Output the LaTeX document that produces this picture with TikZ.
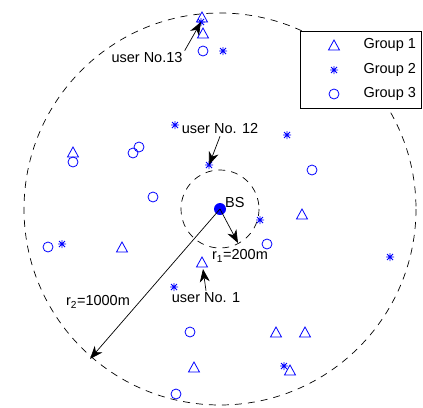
\documentclass[tikz,border=0pt]{standalone}
\usepackage{fontspec}
\setmainfont{Liberation Sans}
\usetikzlibrary{arrows.meta}

\tikzset{
  grpone/.pic={\draw[blue, line width=0.8pt] (-5.5,4) -- (5.5,4) -- (0,-6) -- cycle;},
  grptwo/.pic={\draw[blue, line width=0.8pt] (-4,0) -- (4,0) (0,-4) -- (0,4) (-3,-3) -- (3,3) (-3,3) -- (3,-3);},
  grpthree/.pic={\draw[blue, line width=0.8pt] (0,0) circle [radius=5];},
  usrlbl/.style={inner sep=2pt}
}

\begin{document}
\begin{tikzpicture}[x=1pt, y=-1pt, >={Stealth[length=13pt,width=10pt,inset=4pt]},
                    font=\fontsize{14.5}{16}\selectfont]
            \useasboundingbox (0,0) rectangle (423,407);

            % cell edges
            \draw[dash pattern=on 7pt off 6pt, line width=0.7pt] (220,209) circle [radius=196];
            \draw[dash pattern=on 7pt off 6pt, line width=0.7pt] (220,209) circle [radius=39];

            % users of group 1
            \foreach \x/\y in {202/18, 203/34, 73/153, 122/248, 302/215, 202/263, 194/368, 276/333, 305/333, 290/371}
                \pic at (\x,\y) {grpone};

            % users of group 2
            \foreach \x/\y in {201/22, 223/51, 175/125, 287/135, 209/165, 260/220, 62/244, 390/257, 174/287, 284/366}
                \pic at (\x,\y) {grptwo};

            % users of group 3
            \foreach \x/\y in {203/51, 73/162, 133/153, 139/147, 153/197, 312/170, 267/244, 48/247, 190/332, 176/394}
                \pic at (\x,\y) {grpthree};

            % base station
            \node[circle, fill=blue, minimum size=12pt, inner sep=0] (bs) at (220,209) {};
            \node[anchor=west, inner sep=1pt] (bslbl) at (224,203) {BS};

            % radii
            \coordinate (rone) at (238,243);
            \coordinate (rtwo) at (90,359);
            \draw[line width=0.7pt, ->] (bs.center) -- (rone);
            \draw[line width=0.7pt, ->] (bs.center) -- (rtwo);
            \node (ronelbl) at (240,256) {r\textsubscript{1}=200m};
            \node (rtwolbl) at (98,302) {r\textsubscript{2}=1000m};

            % marked users
            \coordinate (usr13) at (201,22);
            \coordinate (usr12) at (209,165);
            \coordinate (usr1) at (203,269);
            \node[usrlbl] (usr13lbl) at (147,58) {user No.13};
            \node[usrlbl] (usr12lbl) at (220,129) {user No. 12};
            \node[usrlbl] (usr1lbl) at (206,298) {user No. 1};
            \draw[line width=0.7pt, ->] (usr13lbl.north east) -- (usr13);
            \draw[line width=0.7pt, ->] (usr12lbl.south) -- (usr12);
            \draw[line width=0.7pt, ->] (usr1lbl.north) -- (usr1);

            % legend
            \draw[fill=white, line width=0.9pt] (300,31) rectangle (421,108);
            \pic at (334,46) {grpone};
            \pic at (334,70) {grptwo};
            \pic at (334,94) {grpthree};
            \node[anchor=west] (lgone) at (360,45) {Group 1};
            \node[anchor=west] (lgtwo) at (360,70) {Group 2};
            \node[anchor=west] (lgthree) at (360,94) {Group 3};
        \end{tikzpicture}
\end{document}
